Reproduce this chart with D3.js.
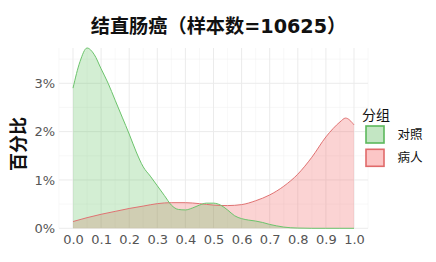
<!DOCTYPE html>
<html><head><meta charset="utf-8">
<script src="https://cdn.jsdelivr.net/npm/d3@7"></script>
<style>body{margin:0;background:#fff}</style>
</head><body>
<svg id="c" width="436" height="262"></svg>
<script>
const title = "结直肠癌（样本数=10625）";
const yTitle = "百分比";
const legendTitle = "分组";
const groups = ["对照", "病人"];
const xTicks = [0,0.1,0.2,0.3,0.4,0.5,0.6,0.7,0.8,0.9,1.0];
const yTicks = [0,0.01,0.02,0.03];
// 对照 density (percent)
const ctrlX = [0,0.025,0.05,0.075,0.1,0.125,0.15,0.175,0.2,0.225,0.25,0.275,0.3,0.325,0.35,0.375,0.4,0.425,0.45,0.475,0.5,0.525,0.55,0.575,0.6,0.625,0.65,0.675,0.7,0.725,0.75,0.8,0.85,0.9,0.95,1.0];
const ctrlY = [2.90,3.45,3.73,3.60,3.30,3.00,2.65,2.30,1.95,1.58,1.27,1.08,0.88,0.68,0.48,0.39,0.38,0.42,0.48,0.52,0.52,0.48,0.38,0.26,0.20,0.17,0.15,0.12,0.08,0.05,0.025,0.005,0,0,0,0];
// 病人 density (percent)
const caseX = [0,0.05,0.1,0.15,0.2,0.25,0.3,0.35,0.4,0.45,0.5,0.55,0.6,0.65,0.7,0.75,0.8,0.85,0.9,0.925,0.95,0.97,1.0];
const caseY = [0.14,0.22,0.29,0.35,0.41,0.46,0.51,0.53,0.53,0.51,0.48,0.47,0.49,0.57,0.69,0.87,1.12,1.47,1.89,2.06,2.20,2.28,2.14];

const svg = d3.select("#c");
const x = d3.scaleLinear().domain([0,1]).range([73,354]);
const y = d3.scaleLinear().domain([0,0.0373]).range([228.3,48]);
const px0 = 59, px1 = 368, py0 = 48, py1 = 228.3;
const FONT = "'DejaVu Sans', 'Noto Sans CJK SC', sans-serif";

// grid
const g = svg.append("g");
const minorX = d3.range(0.05,1.0,0.1);
g.selectAll(".mx").data([...minorX, -0.05, 1.05]).enter().append("line")
 .attr("x1",d=>x(d)).attr("x2",d=>x(d)).attr("y1",py0).attr("y2",py1)
 .attr("stroke","#f4f4f4").attr("stroke-width",0.6);
g.selectAll(".my").data([0.005,0.015,0.025,0.035]).enter().append("line")
 .attr("x1",px0).attr("x2",px1).attr("y1",d=>y(d)).attr("y2",d=>y(d))
 .attr("stroke","#f4f4f4").attr("stroke-width",0.6);
g.selectAll(".Mx").data(xTicks).enter().append("line")
 .attr("x1",d=>x(d)).attr("x2",d=>x(d)).attr("y1",py0).attr("y2",py1)
 .attr("stroke","#ebebeb").attr("stroke-width",1);
g.selectAll(".My").data(yTicks).enter().append("line")
 .attr("x1",px0).attr("x2",px1).attr("y1",d=>y(d)).attr("y2",d=>y(d))
 .attr("stroke","#ebebeb").attr("stroke-width",1);

const series = [
  {name:groups[1], xs:caseX, ys:caseY, fill:"#f26d6d", stroke:"#e07272"},
  {name:groups[0], xs:ctrlX, ys:ctrlY, fill:"#5cbf5c", stroke:"#6cc46c"}
];
const area = d3.area().x(d=>x(d[0])).y0(y(0)).y1(d=>y(d[1]/100)).curve(d3.curveMonotoneX);
const line = d3.line().x(d=>x(d[0])).y(d=>y(d[1]/100)).curve(d3.curveMonotoneX);
series.forEach(s=>{
  const pts = s.xs.map((v,i)=>[v,s.ys[i]]);
  svg.append("path").attr("d",area(pts)).attr("fill",s.fill).attr("fill-opacity",s.name===groups[1]?0.3:0.27);
});
series.forEach(s=>{
  const pts = s.xs.map((v,i)=>[v,s.ys[i]]);
  svg.append("path").attr("d",line(pts)).attr("fill","none").attr("stroke",s.stroke).attr("stroke-width",1);
});

// axes
const xa = svg.append("g").attr("transform",`translate(0,${py1})`)
 .call(d3.axisBottom(x).tickValues(xTicks).tickFormat(d3.format(".1f")).tickSize(0).tickPadding(6));
const ya = svg.append("g").attr("transform",`translate(${px0},0)`)
 .call(d3.axisLeft(y).tickValues(yTicks).tickFormat(d=>Math.round(d*100)+"%").tickSize(0).tickPadding(4));
[xa,ya].forEach(a=>{
  a.select(".domain").remove();
  a.selectAll("text").attr("font-family","DejaVu Sans").attr("font-size",13).attr("fill","#555");
});

svg.append("text").attr("x",218.5).attr("y",33).attr("text-anchor","middle")
 .attr("font-family",FONT).attr("font-weight","bold").attr("font-size",19.2).attr("fill","#111").text(title);
svg.append("text").attr("transform","translate(25,144) rotate(-90)").attr("text-anchor","middle")
 .attr("font-family",FONT).attr("font-weight","bold").attr("font-size",18).attr("fill","#111").text(yTitle);

// legend
svg.append("text").attr("x",362).attr("y",120).attr("font-family",FONT).attr("font-size",14).attr("fill","#111").text(legendTitle);
const lg = [{n:groups[0],f:"#c3e6c3",s:"#5cb85c"},{n:groups[1],f:"#fcc6c6",s:"#e06a6a"}];
lg.forEach((d,i)=>{
  const yy = 125 + i*23.3;
  svg.append("rect").attr("x",366).attr("y",yy+1).attr("width",18).attr("height",17).attr("fill",d.f).attr("stroke",d.s).attr("stroke-width",1.6);
  svg.append("text").attr("x",397.5).attr("y",yy+13.5).attr("font-family",FONT).attr("font-size",12.5).attr("fill","#111").text(d.n);
});
</script>
</body></html>
